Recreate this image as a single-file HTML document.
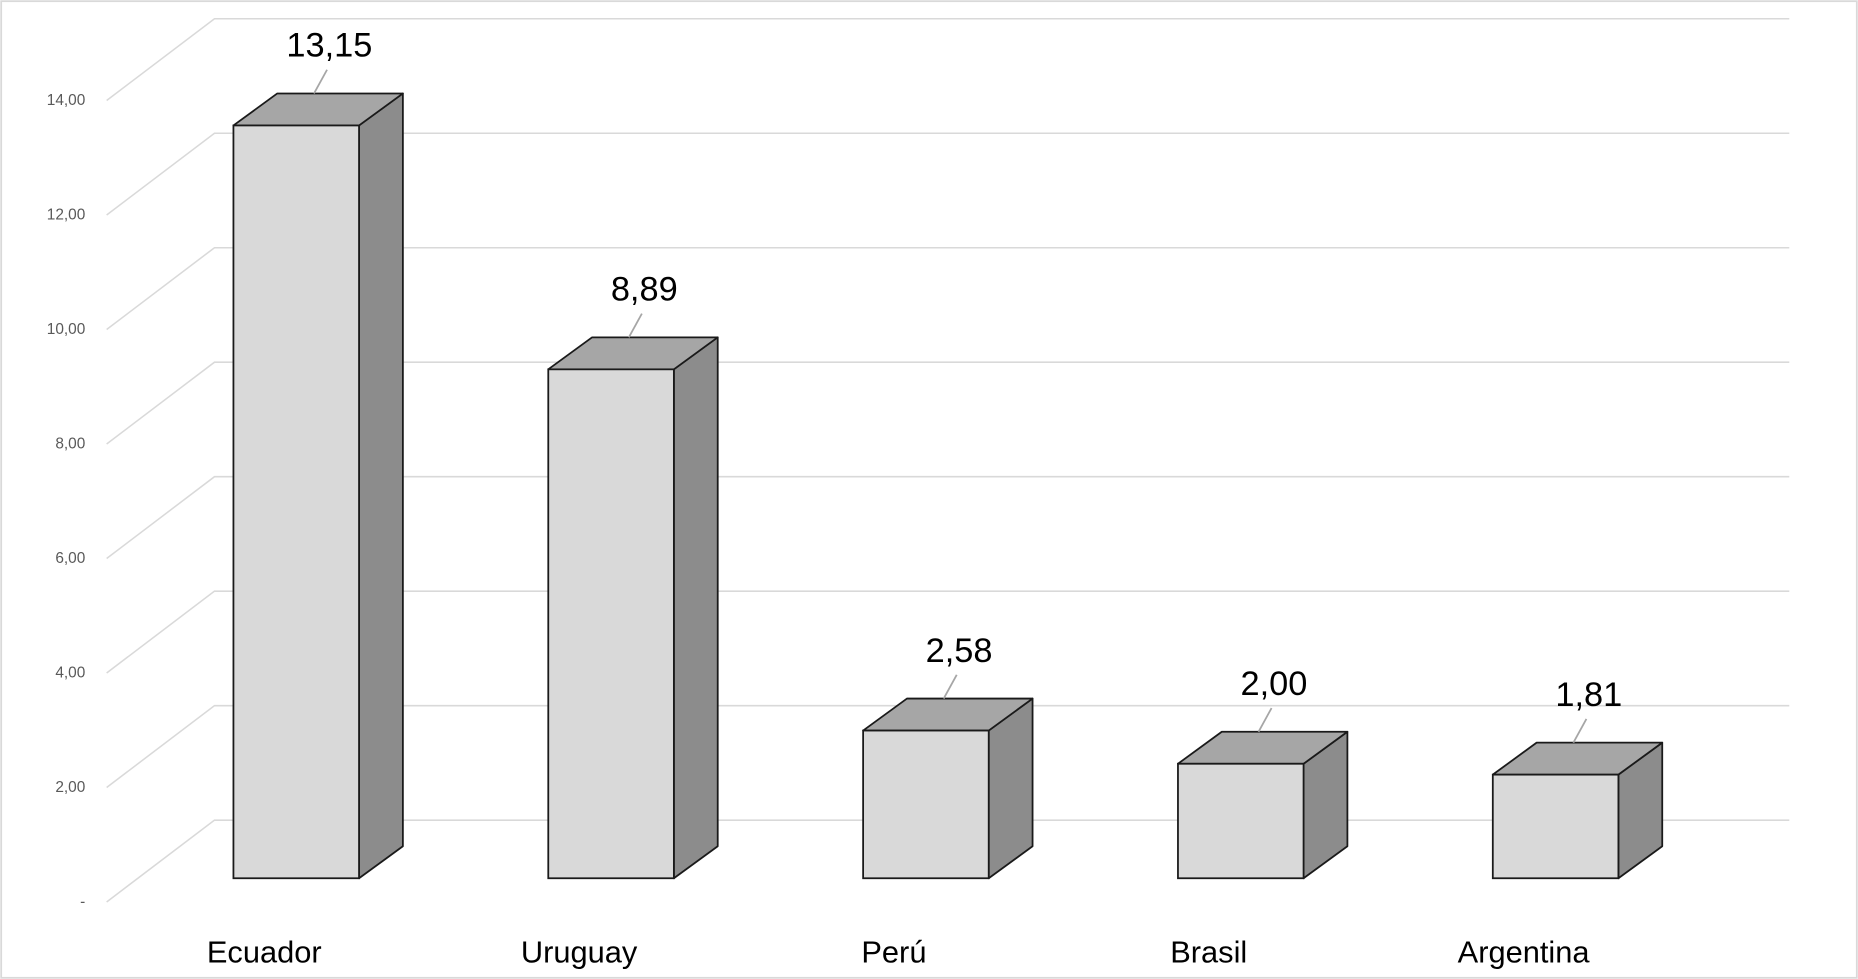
<!DOCTYPE html>
<html><head><meta charset="utf-8"><style>
html,body{margin:0;padding:0;background:#fff;}
svg{display:block;font-family:"Liberation Sans",Calibri,sans-serif;}
</style></head><body>
<svg id="chart" width="1858" height="979" viewBox="0 0 1568 826" preserveAspectRatio="none" xmlns="http://www.w3.org/2000/svg">
<rect x="1" y="1" width="1566" height="824" fill="#fff" stroke="#d9d9d9" stroke-width="1.5"/>
<g id="grid"></g>
<g id="ticks"></g>
<g id="bars"></g>
<g id="cats"></g>
</svg>
<script>
const categories = ["Ecuador","Uruguay","Perú","Brasil","Argentina"];
const values = [13.15, 8.89, 2.58, 2.00, 1.81];
const valueLabels = ["13,15","8,89","2,58","2,00","1,81"];
const tickValues = [0,2,4,6,8,10,12,14];
const tickLabels = ["-","2,00","4,00","6,00","8,00","10,00","12,00","14,00"];

const NS = "http://www.w3.org/2000/svg";
const unit = 48.3;
const frontZero = 761, backZero = 692, barZero = 741;
const depthX = 91, depthY = 69;
function yFront(v){ return frontZero - v*unit; }
function yBack(v){ return backZero - v*unit; }
function yBar(v){ return barZero - v*unit; }
function xBar(i){ return 197 + i*265.7; }
const bw = 106, bdx = 37, bdy = 27;
function mk(tag, attrs, parent){ const e=document.createElementNS(NS,tag); for(const k in attrs) e.setAttribute(k,attrs[k]); parent.appendChild(e); return e; }

const grid=document.getElementById('grid'), ticks=document.getElementById('ticks');
tickValues.forEach((v,i)=>{
  const d = mk('path',{d:`M90 ${yFront(v)} L181 ${yBack(v)} L1510 ${yBack(v)}`,fill:'none',stroke:'#d9d9d9','stroke-width':1.3},grid);
  
  
  const t = mk('text',{x:72,y:yFront(v)+4,'text-anchor':'end','font-size':13,fill:'#595959'},ticks);
  t.textContent = tickLabels[i];
  
  
});

const bars=document.getElementById('bars'), cats=document.getElementById('cats');
values.forEach((v,i)=>{
  const x=xBar(i), yt=yBar(v), yb=barZero;
  const g = mk('g',{},bars);
  
  
  mk('polygon',{points:`${x+bw},${yt} ${x+bw+bdx},${yt-bdy} ${x+bw+bdx},${yb-bdy} ${x+bw},${yb}`,fill:'#8c8c8c',stroke:'#1a1a1a','stroke-width':1.5,'stroke-linejoin':'round'},g);
  mk('polygon',{points:`${x},${yt} ${x+bdx},${yt-bdy} ${x+bw+bdx},${yt-bdy} ${x+bw},${yt}`,fill:'#a6a6a6',stroke:'#1a1a1a','stroke-width':1.5,'stroke-linejoin':'round'},g);
  mk('rect',{x:x,y:yt,width:bw,height:yb-yt,fill:'#d9d9d9',stroke:'#1a1a1a','stroke-width':1.5},g);
  const cx = x + bw/2 + 28;
  const ln = mk('line',{x1:cx-13,y1:yt-bdy,x2:cx-2,y2:yt-bdy-20,stroke:'#a6a6a6','stroke-width':1.5},g);
  
  
  const t = mk('text',{x:cx,y:yt-bdy-31,'text-anchor':'middle','font-size':29,fill:'#000'},g);
  t.textContent = valueLabels[i];
  
  
  const c = mk('text',{x:x+26,y:812,'text-anchor':'middle','font-size':26,fill:'#000'},cats);
  c.textContent = categories[i];
  
  
});
</script>
</body></html>
